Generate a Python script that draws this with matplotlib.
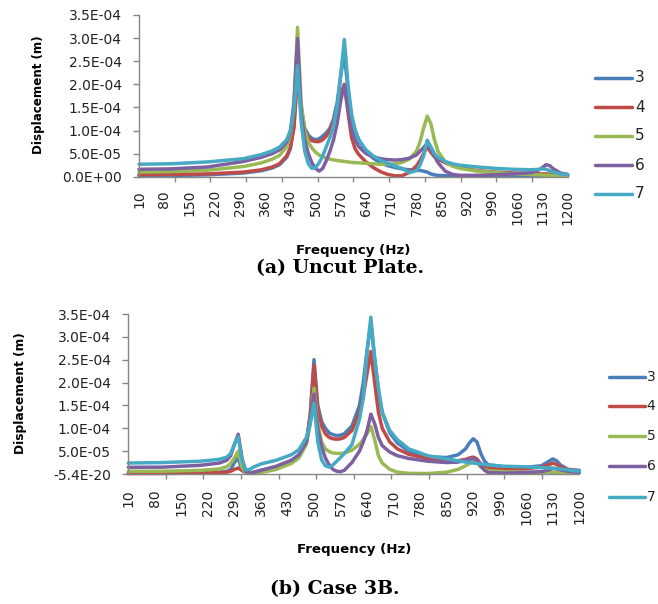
import numpy as np
import matplotlib
matplotlib.use("Agg")
import matplotlib.pyplot as plt
from matplotlib.lines import Line2D

# ---------------- data (displacement in units of 1e-5 m) ----------------
SCALE = 1e-5
series_names = ["3", "4", "5", "6", "7"]
colors = ["#4A7EBB", "#BE4B48", "#98B954", "#7D60A0", "#46AAC5"]

x_tick_labels = list(range(10, 1201, 70))

# (a) Uncut plate
freq_a = [10, 100, 200, 300, 350, 380, 400, 420, 430, 440, 450, 460, 470, 480, 490,
          500, 510, 520, 530, 540, 550, 560, 570, 580, 590, 600, 610, 620, 640, 660,
          680, 700, 720, 740, 760, 780, 790, 800, 810, 820, 830, 840, 860, 880, 900,
          950, 1000, 1050, 1100, 1120, 1130, 1140, 1150, 1160, 1180, 1200]
a3 = [0.2, 0.25, 0.4, 0.8, 1.3, 1.9, 2.6, 4.2, 6.0, 11.0, 23.0, 15.0, 10.5, 9.0, 8.3,
      8.0, 8.2, 8.8, 9.5, 10.5, 12.5, 16.0, 22.0, 26.5, 19.0, 13.0, 10.0, 8.0, 5.5, 4.0,
      3.0, 2.4, 2.0, 1.7, 1.5, 1.4, 1.35, 1.2, 1.0, 0.6, 0.4, 0.3, 0.2, 0.2, 0.2,
      0.2, 0.2, 0.2, 0.2, 0.2, 0.2, 0.2, 0.2, 0.2, 0.15, 0.1]
a4 = [0.43, 0.5, 0.6, 1.0, 1.5, 2.1, 2.8, 4.5, 6.3, 10.5, 22.0, 14.0, 10.0, 8.5, 7.8,
      7.6, 7.6, 8.0, 8.8, 10.0, 12.0, 14.5, 18.0, 20.0, 14.0, 8.5, 6.0, 4.8, 3.2, 2.0,
      1.1, 0.5, 0.2, 0.2, 0.9, 2.3, 3.5, 5.0, 6.5, 5.3, 4.3, 3.8, 3.0, 2.4, 2.0,
      1.3, 1.0, 0.8, 0.7, 0.65, 0.6, 0.6, 0.55, 0.5, 0.4, 0.3]
a5 = [1.0, 1.1, 1.4, 2.2, 3.0, 3.8, 4.6, 6.5, 9.0, 15.0, 32.3, 16.0, 10.0, 7.5, 6.2,
      5.3, 4.7, 4.3, 4.0, 3.8, 3.65, 3.5, 3.4, 3.3, 3.2, 3.1, 3.05, 3.0, 2.9, 2.8,
      2.7, 2.7, 2.8, 3.1, 3.8, 5.5, 7.5, 10.5, 13.1, 11.5, 8.0, 5.5, 3.2, 2.3, 1.8,
      1.2, 0.9, 0.6, 0.45, 0.4, 0.35, 0.3, 0.3, 0.25, 0.2, 0.2]
a6 = [1.6, 1.7, 2.1, 3.3, 4.2, 5.0, 5.8, 7.5, 9.5, 16.0, 29.9, 14.0, 8.0, 5.0, 3.0,
      1.8, 1.2, 1.8, 3.5, 5.5, 8.0, 11.5, 16.5, 19.8, 15.0, 10.5, 8.0, 6.5, 5.0, 4.3,
      3.9, 3.7, 3.6, 3.7, 4.0, 4.7, 5.5, 6.3, 7.2, 6.0, 4.5, 3.0, 1.2, 0.5, 0.3,
      0.3, 0.4, 0.6, 0.9, 1.5, 2.0, 2.6, 2.4, 1.7, 0.8, 0.5]
a7 = [2.7, 2.8, 3.2, 3.9, 4.8, 5.6, 6.4, 8.0, 10.0, 14.5, 24.0, 12.0, 5.5, 2.8, 1.8,
      2.0, 3.0, 4.5, 6.5, 8.5, 11.0, 15.0, 22.0, 29.7, 20.0, 13.5, 10.0, 8.0, 5.8, 4.5,
      3.6, 2.9, 2.3, 1.8, 0.9, 1.3, 2.5, 4.5, 7.9, 6.5, 5.0, 4.2, 3.3, 2.8, 2.5,
      2.1, 1.8, 1.6, 1.5, 1.6, 1.7, 1.6, 1.3, 1.0, 0.6, 0.5]

# (b) Case 3B
freq_b = [10, 100, 200, 250, 270, 280, 290, 300, 310, 320, 330, 340, 360, 400, 440,
          460, 480, 490, 500, 510, 520, 530, 540, 550, 560, 570, 580, 600, 620, 630,
          640, 650, 660, 670, 680, 700, 720, 750, 800, 850, 880, 900, 910, 920, 930,
          940, 950, 960, 1000, 1050, 1100, 1120, 1130, 1140, 1150, 1170, 1200]
b3 = [0.2, 0.2, 0.3, 0.4, 0.6, 1.0, 2.5, 3.5, 0.8, 0.3, 0.2, 0.4, 0.8, 1.5, 2.8,
      4.0, 7.0, 13.0, 25.0, 15.0, 11.5, 10.0, 9.0, 8.6, 8.4, 8.5, 8.8, 10.5, 15.0, 20.0,
      27.0, 33.0, 25.5, 18.0, 13.5, 9.0, 6.8, 5.0, 3.8, 3.6, 4.2, 5.5, 6.8, 7.7, 7.0,
      4.5, 2.8, 2.0, 1.6, 1.4, 1.8, 2.8, 3.3, 2.9, 2.0, 1.0, 0.8]
b4 = [0.1, 0.1, 0.2, 0.3, 0.4, 0.6, 1.0, 1.3, 0.8, 0.3, 0.2, 0.3, 0.6, 1.3, 2.7,
      4.0, 7.0, 12.5, 23.8, 14.0, 10.5, 8.8, 8.0, 7.7, 7.6, 7.7, 8.0, 9.5, 13.5, 17.0,
      22.0, 26.8, 20.0, 13.5, 10.0, 7.0, 5.5, 4.3, 3.4, 2.9, 2.9, 3.2, 3.5, 3.7, 3.3,
      2.2, 1.5, 1.2, 1.1, 1.1, 1.5, 2.0, 2.4, 2.1, 1.6, 1.0, 0.6]
b5 = [0.6, 0.6, 0.8, 1.1, 1.6, 2.3, 3.5, 5.0, 1.5, 0.3, 0.15, 0.1, 0.3, 1.0, 2.3,
      3.5, 6.5, 11.0, 18.8, 11.0, 7.0, 5.5, 4.9, 4.6, 4.5, 4.5, 4.6, 5.2, 6.5, 7.5,
      8.8, 10.4, 7.5, 4.0, 2.4, 1.0, 0.4, 0.15, 0.1, 0.4, 1.0, 1.8, 2.3, 2.8, 2.5,
      1.5, 1.0, 0.7, 0.5, 0.4, 0.4, 0.35, 0.35, 0.3, 0.3, 0.3, 0.3]
b6 = [1.46, 1.5, 1.9, 2.4, 3.0, 4.0, 6.5, 8.7, 3.5, 0.5, 0.2, 0.3, 0.8, 1.7, 3.0,
      4.2, 7.0, 11.5, 17.5, 10.0, 6.0, 3.5, 2.0, 1.0, 0.6, 0.5, 0.8, 2.5, 5.0, 7.0,
      9.5, 13.1, 11.0, 8.0, 6.2, 4.8, 4.0, 3.4, 2.8, 2.5, 2.6, 3.0, 3.2, 3.4, 3.0,
      1.8, 0.8, 0.3, 0.2, 0.3, 0.5, 0.9, 1.2, 1.1, 0.9, 0.6, 0.3]
b7 = [2.4, 2.5, 2.8, 3.2, 3.7, 4.5, 6.5, 8.2, 3.0, 0.9, 1.0, 1.5, 2.2, 3.0, 4.2,
      5.3, 8.0, 11.0, 15.5, 7.0, 3.1, 1.8, 1.5, 2.0, 2.8, 3.6, 4.5, 6.4, 12.0, 16.5,
      27.0, 34.3, 25.0, 18.8, 13.5, 9.5, 7.5, 5.5, 4.0, 3.3, 2.9, 2.6, 2.5, 2.4, 2.3,
      2.2, 2.1, 2.0, 1.7, 1.6, 1.4, 1.3, 1.3, 1.2, 1.1, 0.9, 0.6]

y_ticks = [0.0, 5e-5, 1e-4, 1.5e-4, 2e-4, 2.5e-4, 3e-4, 3.5e-4]
y_labels_a = ["0.0E+00", "5.0E-05", "1.0E-04", "1.5E-04", "2.0E-04", "2.5E-04", "3.0E-04", "3.5E-04"]
y_labels_b = ["-5.4E-20", "5.0E-05", "1.0E-04", "1.5E-04", "2.0E-04", "2.5E-04", "3.0E-04", "3.5E-04"]

# ---------------- figure ----------------
W, H = 658, 604
fig = plt.figure(figsize=(W / 100, H / 100), dpi=100)
plt.rcParams['font.family'] = ['DejaVu Sans']

def fx(px):
    return px / W

def fy(py):
    return 1 - py / H

AX_GREY = "#868686"
TICK_FS = 10

def setup_axes(ax, ylabels, xpad):
    ax.set_xlim(10, 1200)
    ax.set_ylim(0, 3.5e-4)
    for s in ["top", "right"]:
        ax.spines[s].set_visible(False)
    for s in ["left", "bottom"]:
        ax.spines[s].set_color(AX_GREY)
        ax.spines[s].set_linewidth(1.0)
    ax.set_yticks(y_ticks)
    ax.set_yticklabels(ylabels, fontsize=TICK_FS, color="#222222")
    ax.tick_params(axis="y", direction="out", length=4.5, width=1.0, color=AX_GREY, pad=8)
    ax.set_xticks(x_tick_labels)
    ax.set_xticklabels([str(v) for v in x_tick_labels], rotation=90, fontsize=TICK_FS,
                       color="#222222")
    ax.tick_params(axis="x", which="major", length=0, pad=xpad)
    ax.set_xticks(np.linspace(10, 1200, 13), minor=True)
    ax.tick_params(axis="x", which="minor", direction="out", length=3.5, width=1.0,
                   color=AX_GREY)
    ax.patch.set_visible(False)

def draw_series(ax, freq, series):
    for vals, c in zip(series, colors):
        ax.plot(freq, np.array(vals) * SCALE, color=c, lw=2.5, clip_on=False,
                solid_joinstyle="round", solid_capstyle="round")

def draw_legend(x0, x1, xt, ys, fs):
    for name, c, y in zip(series_names, colors, ys):
        fig.add_artist(Line2D([fx(x0), fx(x1)], [fy(y), fy(y)], transform=fig.transFigure,
                              color=c, lw=2.5, solid_capstyle="round"))
        fig.text(fx(xt), fy(y), name, fontsize=fs, color="#222222",
                 ha="left", va="center")

# ---- panel (a)
ax_a = fig.add_axes([fx(139), fy(176.7), fx(567.7) - fx(139), fy(15) - fy(176.7)])
setup_axes(ax_a, y_labels_a, 9.5)
draw_series(ax_a, freq_a, [a3, a4, a5, a6, a7])
ax_a.set_xlabel("Frequency (Hz)", fontsize=9.6, fontweight="bold", va="center")
ax_a.xaxis.set_label_coords(0.5, (176.7 - 250) / 161.7)
ax_a.set_ylabel("Displacement (m)", fontsize=8.6, fontweight="bold", va="center")
ax_a.yaxis.set_label_coords((39 - 139) / 428.7, 0.505)
draw_legend(595, 632, 635, [78, 107, 136, 165, 194], TICK_FS + 1)
fig.text(fx(340), fy(268), "(a) Uncut Plate.", family="DejaVu Serif", fontweight="bold",
         fontsize=13.6, ha="center", va="center")

# ---- panel (b)
ax_b = fig.add_axes([fx(128.3), fy(474), fx(579.3) - fx(128.3), fy(314) - fy(474)])
setup_axes(ax_b, y_labels_b, 11)
draw_series(ax_b, freq_b, [b3, b4, b5, b6, b7])
ax_b.set_xlabel("Frequency (Hz)", fontsize=9.6, fontweight="bold", va="center")
ax_b.xaxis.set_label_coords(0.5, (474 - 549) / 160)
ax_b.set_ylabel("Displacement (m)", fontsize=8.8, fontweight="bold", va="center")
ax_b.yaxis.set_label_coords((20 - 128.3) / 451, 0.506)
draw_legend(609, 645, 646.5, [376.7, 406, 436, 465.7, 496.7], TICK_FS)
fig.text(fx(335), fy(589), "(b) Case 3B.", family="DejaVu Serif", fontweight="bold",
         fontsize=13.6, ha="center", va="center")

fig.savefig("out.png", dpi=100)
